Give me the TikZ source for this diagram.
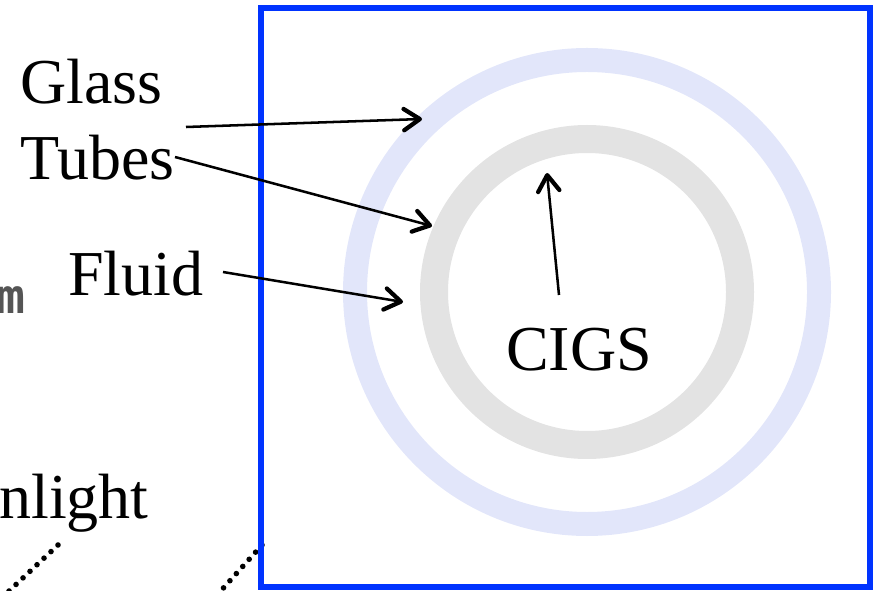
\documentclass[tikz,border=0pt]{standalone}
\usepackage{fontspec}
\setmainfont{Liberation Serif}
\newfontfamily\monobold{DejaVu Sans Mono Bold}
\usetikzlibrary{arrows.meta}
\definecolor{frameblue}{RGB}{0,51,255}
\definecolor{glassring}{RGB}{226,230,250}
\definecolor{cigsring}{RGB}{227,227,227}
\definecolor{markgrey}{RGB}{85,85,85}
\tikzset{
  lbl/.style={inner sep=0pt, anchor=base west, font=\fontsize{48}{58}\selectfont},
  pointer/.style={line width=1.9pt, -{Straight Barb[length=12pt, width=16pt, line width=3.2pt, round]}},
  raydots/.style={line width=4.2pt, line cap=round, dash pattern=on 0pt off 7.2pt}
}
\begin{document}
\begin{tikzpicture}[x=0.75pt, y=-0.75pt]
  \useasboundingbox (0,0) rectangle (874,591);
  \clip (0,0) rectangle (874,591);

  % tube cross-section: outer glass tube and inner CIGS-coated tube
  \coordinate (c) at (587,292);
  \draw[glassring, line width=18pt] (c) circle[radius=232];
  \draw[cigsring, line width=21pt] (c) circle[radius=153];

  % incoming light rays
  \coordinate (r1a) at (58,545);
  \coordinate (r1b) at (8,592);
  \coordinate (r2a) at (262,545);
  \coordinate (r2b) at (218,594);
  \draw[raydots] (r1a) -- (r1b);
  \draw[raydots] (r2a) -- (r2b);

  % frame around the detail view
  \draw[frameblue, line width=4.5pt] (261,8) rectangle (870,587);

  % labels
  \node[lbl] (glass) at (20,104) {Glass};
  \node[lbl] (tubes) at (20,180) {Tubes};
  \node[lbl] (fluid) at (68,296) {Fluid};
  \node[lbl] (cigs) at (506,371) {CIGS};
  \node[inner sep=0pt, anchor=base east, font=\fontsize{48}{58}\selectfont] (sun) at (149,518) {Sunlight};
  \node[inner sep=0pt, anchor=base west, text=markgrey, font=\monobold\fontsize{36}{42}\selectfont] (unit) at (-4,314) {m};

  % pointers
  \coordinate (g0) at (186,127);
  \coordinate (g1) at (422,119);
  \coordinate (t0) at (175,157);
  \coordinate (t1) at (432,226);
  \coordinate (f0) at (223,272);
  \coordinate (f1) at (403,302);
  \coordinate (c0) at (559,295);
  \coordinate (c1) at (547,173);
  \draw[pointer] (g0) -- (g1);
  \draw[pointer] (t0) -- (t1);
  \draw[pointer] (f0) -- (f1);
  \draw[pointer] (c0) -- (c1);
\end{tikzpicture}
\end{document}
